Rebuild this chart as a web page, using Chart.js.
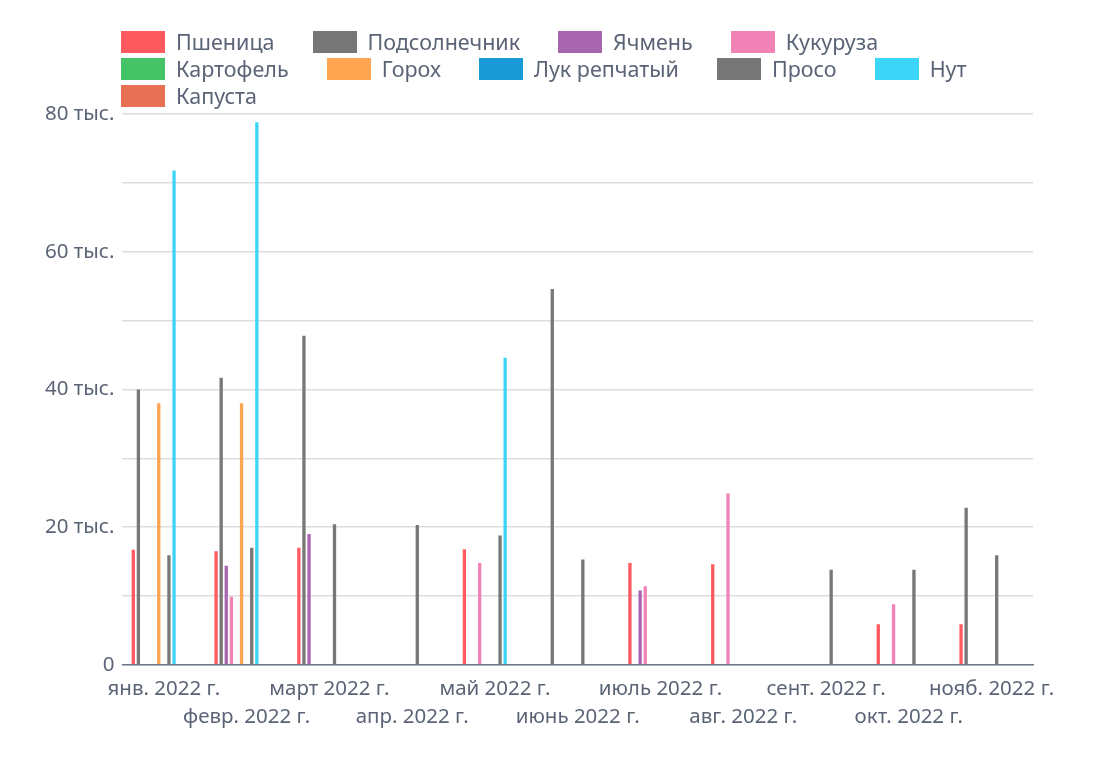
<!DOCTYPE html>
<html lang="ru">
<head>
<meta charset="utf-8">
<script src="https://cdn.jsdelivr.net/npm/chart.js@4.4.1/dist/chart.umd.min.js"></script>
<style>
  html, body { margin: 0; padding: 0; background: #fff; }
  #wrap { position: relative; width: 1110px; height: 759px; }
  #legend {
    position: absolute; left: 121px; top: 28px; width: 940px;
    display: flex; flex-wrap: wrap;
    font-family: 'Noto Sans', sans-serif; font-size: 21.5px; color: #5b6476;
  }
  .item { display: flex; align-items: center; height: 27px; margin-right: 38px; white-space: nowrap; }
  .box { width: 44px; height: 22px; margin-right: 11px; }
</style>
</head>
<body>
<div id="wrap">
  <canvas id="mycanvas" width="1110" height="759"></canvas>
  <div id="legend"></div>
</div>
<script>
var months = ['янв. 2022 г.', 'февр. 2022 г.', 'март 2022 г.', 'апр. 2022 г.', 'май 2022 г.', 'июнь 2022 г.',
  'июль 2022 г.', 'авг. 2022 г.', 'сент. 2022 г.', 'окт. 2022 г.', 'нояб. 2022 г.'];

var wheat     = [16700, 16500, 17000, null, 16800, null, 14800, 14600, null, 5900, 5900];
var sunflower = [40000, 41700, 47800, null, null, 54600, null, null, null, null, 22800];
var barley    = [null, 14400, 19000, null, null, null, 10800, null, null, null, null];
var corn      = [null, 9900, null, null, 14800, null, 11400, 24900, null, 8800, null];
var potato    = [null, null, null, null, null, null, null, null, null, null, null];
var peas      = [38000, 38000, null, null, null, null, null, null, null, null, null];
var onion     = [null, null, null, null, null, null, null, null, null, null, null];
var millet    = [15900, 17000, 20400, 20300, 18800, 15300, null, null, 13800, 13800, 15900];
var chickpea  = [71800, 78800, null, null, 44600, null, null, null, null, null, null];
var cabbage   = [null, null, null, null, null, null, null, null, null, null, null];
// three more series without values and without legend entries (they still take a slot in each group)
var emptySeries = [null, null, null, null, null, null, null, null, null, null, null];

var series = [
  {label: 'Пшеница', color: '#ff5a5f', data: wheat},
  {label: 'Подсолнечник', color: '#777777', data: sunflower},
  {label: 'Ячмень', color: '#a966b0', data: barley},
  {label: 'Кукуруза', color: '#f283b6', data: corn},
  {label: 'Картофель', color: '#44c466', data: potato},
  {label: 'Горох', color: '#ffa552', data: peas},
  {label: 'Лук репчатый', color: '#1a9bd7', data: onion},
  {label: 'Просо', color: '#777777', data: millet},
  {label: 'Нут', color: '#3dd5f7', data: chickpea},
  {label: 'Капуста', color: '#e87155', data: cabbage},
  {label: '', color: '#cccccc', data: emptySeries},
  {label: '', color: '#cccccc', data: emptySeries},
  {label: '', color: '#cccccc', data: emptySeries}
];

var textColor = '#5b6476';
var font = {family: "'Noto Sans', sans-serif", size: 20.5, lineHeight: 1.37};

var datasets = series.map(function(s) {
  return {label: s.label, data: s.data, backgroundColor: s.color, borderWidth: 0};
});

var ctx = document.getElementById('mycanvas');
var chart = new Chart(ctx, {
  type: 'bar',
  data: {labels: months, datasets: datasets},
  options: {
    responsive: false,
    animation: false,
    layout: {padding: {left: 37, right: 77, top: 114, bottom: 18}},
    datasets: {bar: {barPercentage: 0.65, categoryPercentage: 0.8}},
    plugins: {legend: {display: false}, tooltip: {enabled: false}},
    scales: {
      x: {
        grid: {display: false, drawTicks: false},
        border: {display: true, color: '#6e7888', width: 1.5},
        ticks: {
          color: textColor, font: font, autoSkip: false, maxRotation: 0, minRotation: 0, padding: 10,
          callback: function(value, index) {
            var lbl = this.getLabelForValue(value);
            return index % 2 ? ['', lbl] : lbl;
          }
        }
      },
      y: {
        min: 0, max: 80000,
        grid: {color: '#dddddd', lineWidth: 1.5, drawTicks: false},
        border: {display: false},
        ticks: {
          stepSize: 10000, color: textColor, font: font, padding: 8,
          callback: function(v) {
            if (v % 20000 !== 0) return '';
            return v === 0 ? '0' : (v / 1000) + ' тыс.';
          }
        }
      }
    }
  }
});

// html legend built from the chart datasets
var legend = document.getElementById('legend');
chart.data.datasets.forEach(function(ds) {
  if (!ds.label) return;
  var item = document.createElement('div');
  item.className = 'item';
  var box = document.createElement('span');
  box.className = 'box';
  box.style.background = ds.backgroundColor;
  var txt = document.createElement('span');
  txt.textContent = ds.label;
  item.appendChild(box);
  item.appendChild(txt);
  legend.appendChild(item);
});
</script>
</body>
</html>
